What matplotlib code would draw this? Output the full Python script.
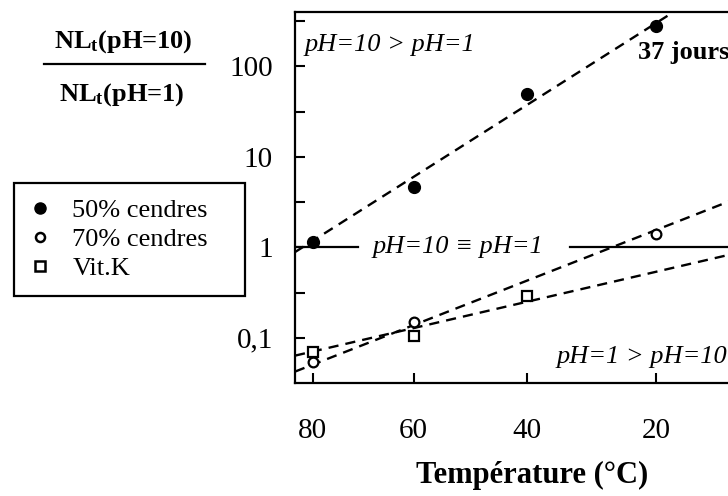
import numpy as np
import matplotlib
matplotlib.use('Agg')
import matplotlib.pyplot as plt
from matplotlib.lines import Line2D
from matplotlib.ticker import FixedLocator, NullFormatter

plt.rcParams['font.family'] = ['Liberation Serif', 'DejaVu Serif']
plt.rcParams['mathtext.fontset'] = 'custom'
plt.rcParams['mathtext.rm'] = 'Liberation Serif'
plt.rcParams['mathtext.bf'] = 'Liberation Serif:bold'
plt.rcParams['mathtext.it'] = 'Liberation Serif:italic'

# points mesurés : NLt(pH=10) / NLt(pH=1)
temp_50 = [80, 60, 40, 20]
ratio_50 = [1.14, 4.6, 49, 282]
temp_70 = [80, 60, 20]
ratio_70 = [0.054, 0.15, 1.40]
temp_vitk = [80, 60, 40]
ratio_vitk = [0.070, 0.105, 0.29]

# droites (valeurs a 80 et 20 degres)
fit_temp = [80, 20]
fit_50 = [1.18, 300]
fit_70 = [0.0505, 1.55]
fit_vitk = [0.0705, 0.536]

xtick_temp = [80, 60, 40, 20]
ytick_vals = [0.1, 1, 10, 100]
ytick_labels = ['0,1', '1', '10', '100']
yminor_vals = [10 ** -0.5, 10 ** 0.5, 10 ** 1.5, 10 ** 2.5]


def inv_t(t):
    # axe en 1/T (Arrhenius), etiquettes en degres C
    return 1000.0 / (np.asarray(t, dtype=float) + 273.15)


W, H = 728, 496
fig = plt.figure(figsize=(W / 100, H / 100), dpi=100)
ax = fig.add_axes([295 / W, 113 / H, 473 / W, 371 / H])

xlim = inv_t([83.8, 4.6])
ax.set_xlim(xlim)
ax.set_yscale('log')
ax.set_ylim(10 ** -1.5, 10 ** 2.6)

# droites en tirets
for vals in (fit_50, fit_70, fit_vitk):
    xf = inv_t(fit_temp)
    p = np.polyfit(xf, np.log10(vals), 1)
    ax.plot(xlim, 10 ** np.polyval(p, xlim), color='black', lw=1.7,
            dashes=(4.3, 3.0), zorder=2)

# ligne pH=10 = pH=1
ax.axhline(1, 0, 0.133, color='black', lw=1.6)
ax.axhline(1, 0.581, 1, color='black', lw=1.6)

ax.plot(inv_t(temp_50), ratio_50, 'o', ms=8.5, mfc='black', mec='black', zorder=3)
ax.plot(inv_t(temp_70), ratio_70, 'o', ms=7, mfc='white', mec='black', mew=1.6, zorder=3)
ax.plot(inv_t(temp_vitk), ratio_vitk, 's', ms=7.5, mfc='white', mec='black', mew=1.6, zorder=3)

ax.set_xticks(inv_t(xtick_temp))
ax.set_xticklabels([str(t) for t in xtick_temp])
ax.yaxis.set_major_locator(FixedLocator(ytick_vals))
ax.set_yticklabels(ytick_labels)
ax.yaxis.set_minor_locator(FixedLocator(yminor_vals))
ax.yaxis.set_minor_formatter(NullFormatter())
ax.tick_params(axis='x', which='both', direction='in', length=7, width=1.5,
               labelsize=21, pad=25, top=False)
ax.tick_params(axis='y', which='both', direction='in', length=7, width=1.5,
               labelsize=21, pad=16, right=False)
for s in ax.spines.values():
    s.set_linewidth(1.6)

# textes dans le graphe
ax.text(0.021, 0.911, 'pH=10 > pH=1', transform=ax.transAxes, fontsize=19,
        style='italic', va='center', ha='left')
ax.text(0.165, 0.367, 'pH=10 \u2261 pH=1', transform=ax.transAxes, fontsize=19,
        style='italic', va='center', ha='left')
ax.text(0.552, 0.070, 'pH=1 > pH=10', transform=ax.transAxes, fontsize=19,
        style='italic', va='center', ha='left')
ax.text(0.725, 0.892, '37 jours', transform=ax.transAxes, fontsize=19,
        fontweight='bold', va='center', ha='left')

# titre de l'axe y (fraction)
fig.text(123 / W, 1 - 42 / H, r'NL$_\mathbf{t}$(pH=10)', fontsize=19,
         fontweight='bold', ha='center', va='center')
fig.text(122 / W, 1 - 95 / H, r'NL$_\mathbf{t}$(pH=1)', fontsize=19,
         fontweight='bold', ha='center', va='center')
fig.add_artist(Line2D([44 / W, 205 / W], [1 - 64 / H, 1 - 64 / H],
                      color='black', lw=1.6, transform=fig.transFigure))

fig.text(532 / W, 1 - 475 / H, 'Température (°C)', fontsize=22,
         fontweight='bold', ha='center', va='center')

handles = [
    Line2D([], [], ls='none', marker='o', ms=8, mfc='black', mec='black'),
    Line2D([], [], ls='none', marker='o', ms=6.5, mfc='white', mec='black', mew=1.8),
    Line2D([], [], ls='none', marker='s', ms=6.5, mfc='white', mec='black', mew=1.8),
]
labels = ['50% cendres', '70% cendres', 'Vit.K']
leg = fig.legend(handles, labels, loc='upper left',
                 bbox_to_anchor=(14 / W, (496 - 294) / H, 231 / W, 111 / H),
                 mode='expand', borderaxespad=0, fancybox=False,
                 edgecolor='black', framealpha=1, fontsize=19, numpoints=1,
                 handlelength=0.76, handletextpad=0.85, borderpad=0.6,
                 labelspacing=0.2)
leg.get_frame().set_linewidth(1.6)

fig.savefig('out.png', dpi=100)
